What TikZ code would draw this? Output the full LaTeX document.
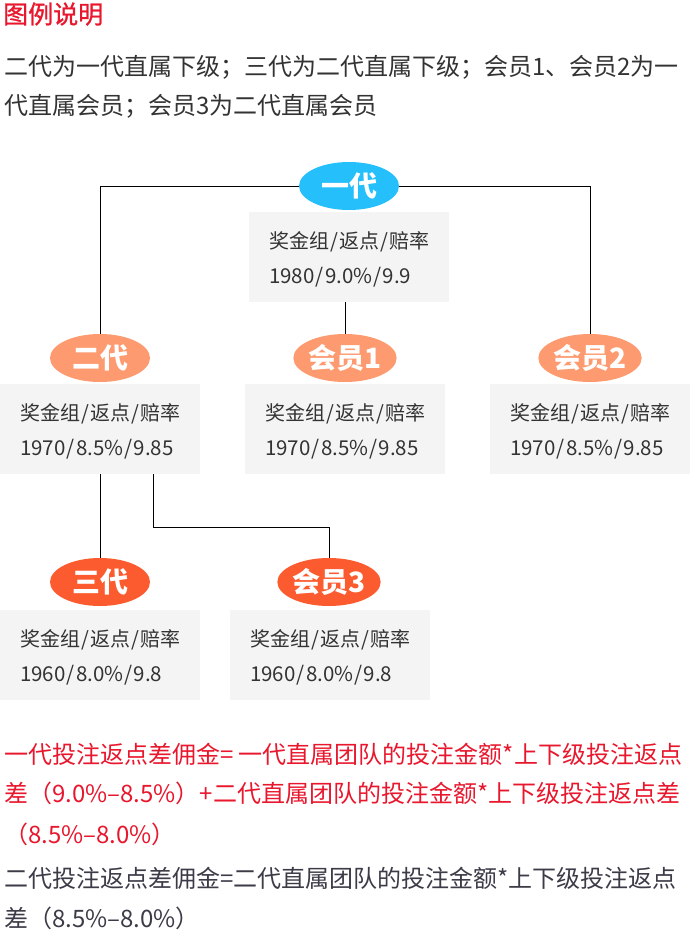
\documentclass[tikz,border=0pt]{standalone}
\usepackage{fontspec}
\setmainfont{Noto Sans CJK SC}
\newfontfamily\titlefont{Noto Sans CJK SC}[FakeBold=1]
\usetikzlibrary{shapes.geometric,calc}
\definecolor{cBlue}{HTML}{25C0FC}
\definecolor{cSalmon}{HTML}{FD9A6F}
\definecolor{cOrange}{HTML}{FB5B2E}
\definecolor{cGray}{HTML}{F4F4F4}
\definecolor{cRed}{HTML}{E8172D}
\definecolor{cDark}{HTML}{333333}
\definecolor{cDark2}{HTML}{3C3B47}
\newcommand{\wsl}{\kern1.2pt/\kern1.2pt}
\begin{document}
\begin{tikzpicture}[x=1pt,y=-1pt,
  gen/.style={ellipse, minimum width=100pt, minimum height=48pt, inner sep=0pt, text=white, font=\fontsize{28}{28}\selectfont\bfseries},
  lvlone/.style={gen, fill=cBlue},
  lvltwo/.style={gen, fill=cSalmon},
  lvlthree/.style={gen, fill=cOrange},
  infobox/.style={rectangle, fill=cGray, minimum width=200pt, minimum height=90pt, inner sep=0pt, anchor=north west},
  boxtxt/.style={anchor=base west, inner sep=0pt, text=cDark, font=\fontsize{20}{20}\selectfont},
  numtxt/.style={boxtxt, font=\fontsize{20.5}{20.5}\selectfont},
  bodytxt/.style={anchor=base west, inner sep=0pt, font=\fontsize{24}{24}\selectfont},
  conn/.style={draw=black, line width=1pt}
]
\useasboundingbox (0,0) rectangle (691,931);

% header
\node[bodytxt, text=cRed, font=\fontsize{25}{25}\selectfont\titlefont] (title) at (3,23.5) {图例说明};
\node[bodytxt, text=cDark] (l1) at (4,75.5) {二代为一代直属下级；三代为二代直属下级；会员1、会员2为一};
\node[bodytxt, text=cDark] (l2) at (4,115) {代直属会员；会员3为二代直属会员};

% boxes
\node[infobox] (b0) at (249,212) {};
\node[infobox] (b2a) at (0,384) {};
\node[infobox] (b2b) at (245,384) {};
\node[infobox] (b2c) at (490,384) {};
\node[infobox] (b3a) at (0,610) {};
\node[infobox] (b3b) at (230,610) {};

\foreach \b/\v in {b0/{1980\wsl 9.0\%\wsl 9.9}, b2a/{1970\wsl 8.5\%\wsl 9.85}, b2b/{1970\wsl 8.5\%\wsl 9.85}, b2c/{1970\wsl 8.5\%\wsl 9.85}, b3a/{1960\wsl 8.0\%\wsl 9.8}, b3b/{1960\wsl 8.0\%\wsl 9.8}}{
  \node[boxtxt] (\b-t1) at ($(\b.north west)+(20,36.5)$) {奖金组\wsl 返点\wsl 赔率};
  \node[numtxt] (\b-t2) at ($(\b.north west)+(20,71.5)$) {\v};
}

% ellipses
\node[lvlone] (yd) at (349,186) {一代};
\node[lvltwo] (ed) at (100,358) {二代};
\node[lvltwo] (hy1) at (345,358) {会员1};
\node[lvltwo] (hy2) at (590,358) {会员2};
\node[lvlthree] (sd) at (100,582) {三代};
\node[lvlthree] (hy3) at (329,582) {会员3};

% connectors
\draw[conn] (yd.west) -| (ed.north);
\draw[conn] (yd.east) -| (hy2.north);
\draw[conn] (hy1.north) -- (hy1.north |- b0.south);
\draw[conn] (sd.north) -- (sd.north |- b2a.south);
\draw[conn] ([xshift=53pt]b2a.south) -- ++(0,53) -| (hy3.north);

% formulas
\node[bodytxt, text=cRed] (f1) at (4,763) {一代投注返点差佣金= 一代直属团队的投注金额*上下级投注返点};
\node[bodytxt, text=cRed] (f2) at (4,802) {差（9.0\%–8.5\%）+二代直属团队的投注金额*上下级投注返点差};
\node[bodytxt, text=cRed] (f3) at (4,843) {（8.5\%–8.0\%）};
\node[bodytxt, text=cDark2] (f4) at (4,887) {二代投注返点差佣金=二代直属团队的投注金额*上下级投注返点};
\node[bodytxt, text=cDark2] (f5) at (4,927) {差（8.5\%–8.0\%）};
\end{tikzpicture}
\end{document}
